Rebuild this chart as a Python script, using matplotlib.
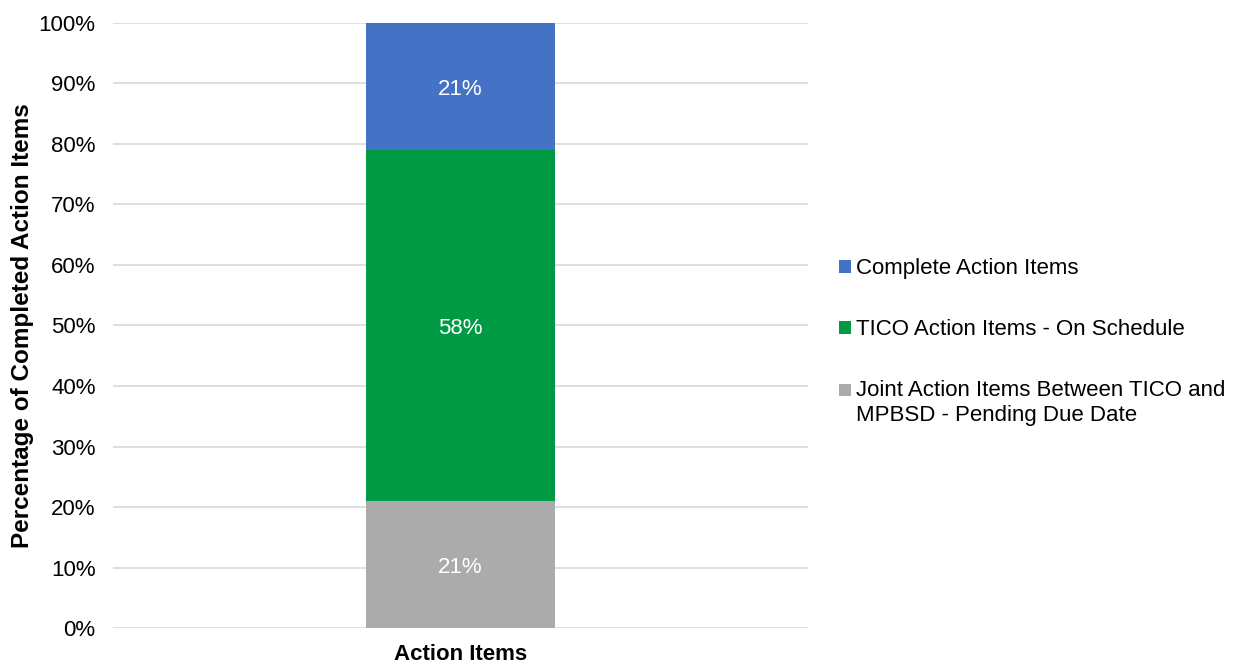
import matplotlib
matplotlib.use("Agg")
import matplotlib.pyplot as plt
from matplotlib.patches import Patch

plt.rcParams['font.family'] = ['Liberation Sans', 'DejaVu Sans']

category = ["Action Items"]
series_names = ["Joint Action Items Between TICO and\nMPBSD - Pending Due Date",
                "TICO Action Items - On Schedule",
                "Complete Action Items"]
series_values = [21, 58, 21]
series_colors = ["#ABABAB", "#009A44", "#4472C4"]
yticks = [0, 10, 20, 30, 40, 50, 60, 70, 80, 90, 100]

FS = 16

fig = plt.figure(figsize=(12.35, 6.64), dpi=100)
ax = fig.add_axes([0.0915, 0.0542, 0.5625, 0.9112])

bottom = 0
handles = []
for name, val, col in zip(series_names, series_values, series_colors):
    ax.bar(0, val, width=0.272, bottom=bottom, color=col, zorder=3)
    ax.annotate(f"{val}%", xy=(0, bottom + val / 2), xytext=(0, -2.2),
                textcoords="offset points", ha="center", va="center",
                color="white", fontsize=FS, zorder=4)
    bottom += val
    handles.append(Patch(facecolor=col, label=name))

ax.set_xlim(-0.5, 0.5)
ax.set_ylim(0, 100)
ax.set_yticks(yticks)
ax.set_yticklabels([f"{t}%" for t in yticks], fontsize=FS, color="#000000")
ax.set_xticks([0])
ax.set_xticklabels(category, fontsize=FS, fontweight="bold")
ax.tick_params(axis="y", length=0, pad=12.5)
ax.tick_params(axis="x", length=0, pad=11.5)
ax.grid(axis="y", color="#D9D9D9", linewidth=1.2, zorder=0)
for s in ax.spines.values():
    s.set_visible(False)
ax.set_ylabel("Percentage of Completed Action Items", fontsize=17.5,
              fontweight="bold", labelpad=3)

leg = fig.legend(handles=handles[::-1], loc="center left",
                 bbox_to_anchor=(0.6707, 0.485), frameon=False,
                 fontsize=FS, handlelength=0.5, handleheight=0.5,
                 handletextpad=0.25, labelspacing=1.8, borderpad=0)
# align the two-line entry's marker with its first line
p = leg.get_patches()[2]
p.set_y(p.get_y() + 9.4)

fig.savefig("out.png", dpi=100)
